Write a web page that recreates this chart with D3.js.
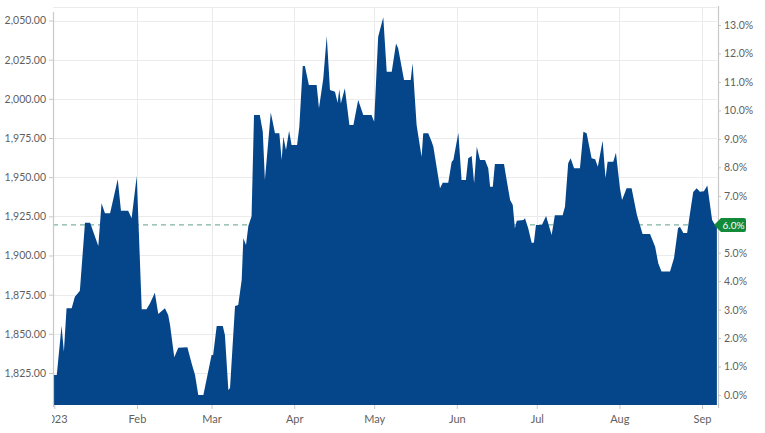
<!DOCTYPE html>
<html>
<head>
<meta charset="utf-8">
<script src="https://cdn.jsdelivr.net/npm/d3@7"></script>
<style>
  html, body { margin: 0; padding: 0; background: #ffffff; }
  svg { display: block; }
  text { font-family: Lato, "Open Sans", sans-serif; }
</style>
</head>
<body>
<svg id="chart" width="765" height="433"></svg>
<script>
// ---- data ----
const dates = [
  "2022-12-31 12:00","2023-01-01 22:00","2023-01-03 17:00","2023-01-04 14:00","2023-01-05 14:00",
  "2023-01-07 12:00","2023-01-08 17:00","2023-01-10 14:00","2023-01-12 12:00","2023-01-14 10:00",
  "2023-01-17 12:00","2023-01-18 17:00","2023-01-20 00:00","2023-01-21 22:00","2023-01-24 19:00",
  "2023-01-26 00:00","2023-01-28 17:00","2023-01-30 00:00","2023-01-31 22:00","2023-02-02 19:00",
  "2023-02-04 14:00","2023-02-05 22:00","2023-02-07 17:00","2023-02-09 00:00","2023-02-11 12:00",
  "2023-02-12 17:00","2023-02-13 10:00","2023-02-15 00:00","2023-02-16 12:00","2023-02-19 22:00",
  "2023-02-21 12:00","2023-02-22 19:00","2023-02-24 00:00","2023-02-25 22:00","2023-03-01 00:00",
  "2023-03-01 14:00","2023-03-02 22:00","2023-03-05 05:00","2023-03-06 00:00","2023-03-07 07:00",
  "2023-03-07 22:00","2023-03-09 19:00","2023-03-11 00:00","2023-03-12 07:00","2023-03-12 22:00",
  "2023-03-13 22:00","2023-03-14 19:00","2023-03-16 00:00","2023-03-16 22:00","2023-03-19 02:00",
  "2023-03-20 05:00","2023-03-21 00:00","2023-03-23 05:00","2023-03-24 19:00","2023-03-26 10:00",
  "2023-03-27 07:00","2023-03-27 22:00","2023-03-28 22:00","2023-03-30 02:00","2023-03-31 00:00",
  "2023-04-02 02:00","2023-04-02 22:00","2023-04-04 05:00","2023-04-05 00:00","2023-04-06 12:00",
  "2023-04-09 10:00","2023-04-10 07:00","2023-04-11 22:00","2023-04-13 05:00","2023-04-14 10:00",
  "2023-04-16 07:00","2023-04-17 07:00","2023-04-17 22:00","2023-04-18 12:00","2023-04-20 00:00",
  "2023-04-21 17:00","2023-04-23 05:00","2023-04-25 00:00","2023-04-26 22:00","2023-04-30 00:00",
  "2023-05-01 00:00","2023-05-02 12:00","2023-05-04 10:00","2023-05-05 17:00","2023-05-07 14:00",
  "2023-05-09 05:00","2023-05-10 00:00","2023-05-12 05:00","2023-05-14 17:00","2023-05-15 10:00",
  "2023-05-16 22:00","2023-05-18 19:00","2023-05-19 10:00","2023-05-21 07:00","2023-05-22 14:00",
  "2023-05-23 05:00","2023-05-25 17:00","2023-05-26 17:00","2023-05-28 19:00","2023-05-30 02:00",
  "2023-05-30 17:00","2023-06-01 14:00","2023-06-02 19:00","2023-06-04 10:00","2023-06-05 07:00",
  "2023-06-06 14:00","2023-06-07 12:00","2023-06-08 12:00","2023-06-09 17:00","2023-06-11 14:00",
  "2023-06-12 19:00","2023-06-13 12:00","2023-06-14 12:00","2023-06-15 07:00","2023-06-18 17:00",
  "2023-06-19 17:00","2023-06-21 00:00","2023-06-22 00:00","2023-06-22 19:00","2023-06-23 12:00",
  "2023-06-26 00:00","2023-06-26 14:00","2023-06-27 19:00","2023-06-29 02:00","2023-06-29 22:00",
  "2023-06-30 17:00","2023-07-02 22:00","2023-07-04 12:00","2023-07-05 07:00","2023-07-06 14:00",
  "2023-07-07 19:00","2023-07-10 17:00","2023-07-11 14:00","2023-07-12 19:00","2023-07-13 17:00",
  "2023-07-15 00:00","2023-07-17 05:00","2023-07-18 12:00","2023-07-19 17:00","2023-07-21 14:00",
  "2023-07-22 22:00","2023-07-23 22:00","2023-07-25 17:00","2023-07-26 19:00","2023-07-27 14:00",
  "2023-07-29 17:00","2023-07-30 17:00","2023-08-01 05:00","2023-08-02 00:00","2023-08-03 17:00",
  "2023-08-05 14:00","2023-08-07 14:00","2023-08-09 17:00","2023-08-12 12:00","2023-08-14 10:00",
  "2023-08-15 14:00","2023-08-16 19:00","2023-08-20 00:00","2023-08-21 12:00","2023-08-23 00:00",
  "2023-08-23 17:00","2023-08-25 00:00","2023-08-26 10:00","2023-08-27 12:00","2023-08-28 17:00",
  "2023-08-30 00:00","2023-08-31 05:00","2023-09-01 17:00","2023-09-03 00:00","2023-09-04 19:00",
  "2023-09-05 22:00","2023-09-06 14:00"
];
const prices = [
  1823.7,1823.7,1855.2,1838.6,1866.3,
  1866.3,1873.7,1877.5,1920.9,1920.9,
  1906.1,1933.3,1927.0,1927.0,1948.6,
  1928.6,1928.6,1923.7,1950.7,1865.7,
  1865.7,1869.5,1876.3,1862.7,1866.3,
  1862.0,1855.6,1835.0,1841.1,1841.4,
  1831.2,1823.7,1811.0,1811.0,1836.5,
  1836.5,1855.0,1855.0,1849.3,1814.1,
  1815.4,1867.8,1868.4,1884.4,1911.0,
  1906.7,1918.8,1925.0,1989.7,1989.7,
  1979.0,1948.2,1991.2,1978.0,1978.0,
  1961.0,1975.8,1967.3,1979.7,1970.5,
  1970.5,1982.2,2021.0,2021.0,2008.8,
  2008.8,1994.0,2013.1,2040.1,2005.6,
  2004.5,1997.5,2006.1,1997.1,2006.7,
  1983.3,1983.3,1999.3,1989.7,1989.7,
  1985.4,2039.7,2052.0,2017.3,2017.3,
  2035.4,2032.3,2012.0,2012.0,2022.7,
  1983.3,1963.0,1978.0,1978.0,1972.6,
  1969.4,1942.9,1946.5,1946.5,1959.9,
  1961.0,1978.4,1948.2,1948.2,1962.0,
  1963.5,1946.1,1969.4,1961.0,1961.0,
  1955.7,1943.9,1943.9,1958.4,1958.4,
  1948.2,1935.4,1932.2,1917.4,1922.2,
  1922.6,1923.7,1917.4,1908.2,1908.2,
  1919.5,1919.5,1925.2,1920.6,1913.1,
  1925.7,1925.7,1931.1,1958.9,1962.0,
  1955.7,1955.7,1979.0,1978.0,1962.0,
  1961.4,1956.7,1973.3,1949.5,1959.9,
  1959.9,1965.6,1942.9,1935.4,1942.9,
  1942.9,1925.9,1913.7,1913.7,1905.6,
  1895.0,1889.8,1889.8,1898.4,1917.4,
  1918.4,1914.4,1914.4,1927.0,1940.5,
  1942.9,1940.7,1941.0,1944.7,1922.7,
  1919.5,1919.5
];
const leftTicks = [1825, 1850, 1875, 1900, 1925, 1950, 1975, 2000, 2025, 2050];
const rightTicks = [0, 1, 2, 3, 4, 5, 6, 7, 8, 9, 10, 11, 12, 13];
const monthTicks = ["2023-01-01 00:00","2023-02-01 00:00","2023-03-01 00:00","2023-04-01 00:00",
  "2023-05-01 00:00","2023-06-01 00:00","2023-07-01 00:00","2023-08-01 00:00","2023-09-01 00:00"];
const monthLabels = ["2023", "Feb", "Mar", "Apr", "May", "Jun", "Jul", "Aug", "Sep"];
const xDomain = ["2022-12-31 12:00", "2023-09-06 15:00"];
const leftDomain = [1804.57, 2057.98];
const rightDomain = [-0.351, 13.598];

// ---- layout ----
const L = 53, R = 717, T = 8, B = 405;
const parse = d3.utcParse("%Y-%m-%d %H:%M");
const data = dates.map((d, i) => ({ date: parse(d), value: prices[i] }));

const x = d3.scaleUtc().domain(xDomain.map(parse)).range([L, R]);
const yL = d3.scaleLinear().domain(leftDomain).range([B, T]);
const yR = d3.scaleLinear().domain(rightDomain).range([B, T]);

const svg = d3.select("#chart");
const gridColor = "#ebebeb";
const axisColor = "#c8c8c8";
const textColor = "#5f5f5f";

// grid
const grid = svg.append("g");
grid.selectAll("line.h").data(leftTicks).join("line")
  .attr("x1", L).attr("x2", R)
  .attr("y1", d => Math.round(yL(d)) + 0.5).attr("y2", d => Math.round(yL(d)) + 0.5)
  .attr("stroke", gridColor).attr("stroke-width", 1);
grid.append("line").attr("x1", L).attr("x2", R).attr("y1", 7.5).attr("y2", 7.5)
  .attr("stroke", gridColor);
grid.selectAll("line.v").data(monthTicks.slice(1)).join("line")
  .attr("x1", d => Math.round(x(parse(d))) + 0.5).attr("x2", d => Math.round(x(parse(d))) + 0.5)
  .attr("y1", T).attr("y2", B)
  .attr("stroke", gridColor).attr("stroke-width", 1);

// dashed current-value line (behind area)
const last = data[data.length - 1];
const yLast = yL(last.value);
svg.append("line")
  .attr("x1", L).attr("x2", R).attr("y1", yLast).attr("y2", yLast)
  .attr("stroke", "#7fb3a3").attr("stroke-width", 1.3).attr("stroke-dasharray", "5,4");

// area
const area = d3.area()
  .x(d => x(d.date))
  .y0(B)
  .y1(d => yL(d.value));
svg.append("path").datum(data).attr("d", area).attr("fill", "#05468a");

// left axis
const gL = svg.append("g").attr("transform", `translate(${L},0)`)
  .call(d3.axisLeft(yL).tickValues(leftTicks).tickSize(4).tickPadding(3)
    .tickFormat(d3.format(",.2f")));
gL.select(".domain").remove();
gL.selectAll(".tick line").attr("stroke", axisColor);
gL.selectAll("text").attr("fill", textColor).style("font-size", "10.5px")
  .style("font-family", "Lato, sans-serif");
svg.append("line").attr("x1", L + 0.5).attr("x2", L + 0.5).attr("y1", 12).attr("y2", B + 2)
  .attr("stroke", axisColor).attr("stroke-width", 1.2);

// right axis
const pct = yR.invert(yLast);
const gR = svg.append("g").attr("transform", `translate(${R + 1},0)`)
  .call(d3.axisRight(yR).tickValues(rightTicks).tickSize(3).tickPadding(3)
    .tickFormat(d => d3.format(".1f")(d) + "%"));
gR.select(".domain").remove();
gR.selectAll(".tick line").attr("stroke", axisColor);
gR.selectAll("text").attr("fill", textColor).style("font-size", "10.5px")
  .style("font-family", "Lato, sans-serif");
// the tick label hidden under the current-value badge
gR.selectAll(".tick").filter(d => Math.abs(yR(d) - yLast) < 10).select("text").remove();
svg.append("line").attr("x1", R + 1.5).attr("x2", R + 1.5).attr("y1", 6).attr("y2", B + 3)
  .attr("stroke", axisColor).attr("stroke-width", 1.2);

// bottom axis (first label clipped at the plot's left edge)
svg.append("clipPath").attr("id", "xclip").append("rect")
  .attr("x", L - 1).attr("y", 0).attr("width", 765 - L).attr("height", 433 - B);
const gX = svg.append("g").attr("transform", `translate(0,${B})`)
  .attr("clip-path", "url(#xclip)")
  .call(d3.axisBottom(x).tickValues(monthTicks.map(parse)).tickSize(4).tickPadding(6)
    .tickFormat((d, i) => monthLabels[i]));
gX.select(".domain").remove();
gX.selectAll(".tick line").attr("stroke", axisColor);
gX.selectAll("text").attr("fill", textColor).style("font-size", "11px")
  .style("font-family", "Lato, sans-serif");

// current-value badge
const badge = svg.append("g").attr("transform", `translate(${R + 1},${yLast})`);
badge.append("path")
  .attr("d", "M-4,0 L3,-7 H26 Q28,-7 28,-5 V5 Q28,7 26,7 H3 Z")
  .attr("fill", "#138a3a");
badge.append("text").attr("x", 15.5).attr("y", 3.8).attr("text-anchor", "middle")
  .attr("fill", "#ffffff").style("font-size", "10px")
  .style("font-family", "Lato, sans-serif")
  .text(d3.format(".1f")(pct) + "%");
</script>
</body>
</html>
